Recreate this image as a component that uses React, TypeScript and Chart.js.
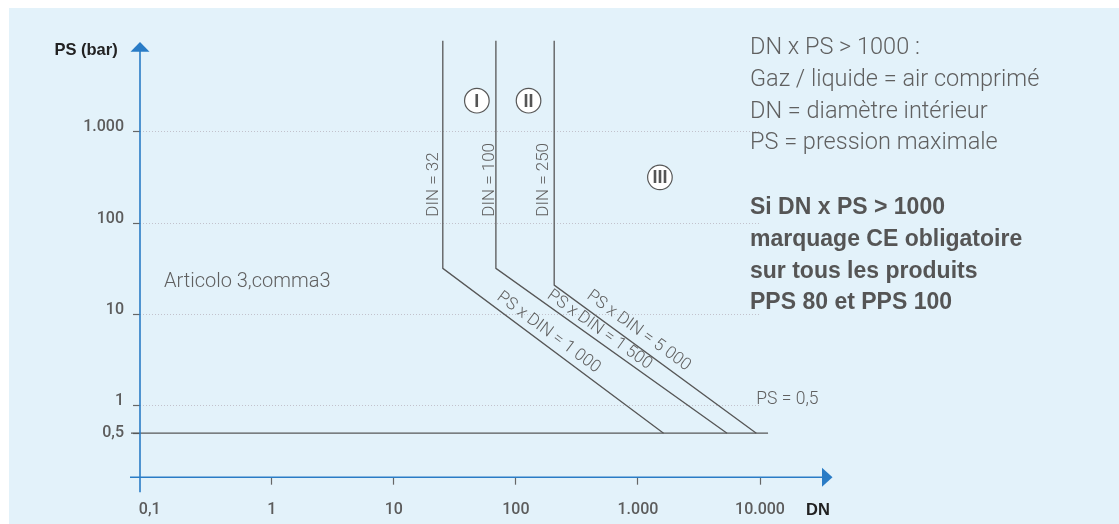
import React, { useEffect, useRef } from "react";
import { Chart, registerables } from "chart.js";

Chart.register(...registerables);

// ---------- data ----------
const xTickValues = [0.1, 1, 10, 100, 1000, 10000];
const xTickLabels = ["0,1", "1", "10", "100", "1.000", "10.000"];
const yTickValues = [0.5, 1, 10, 100, 1000];
const yTickLabels = ["0,5", "1", "10", "100", "1.000"];

const din32DN = [25.2, 25.2, 1622];
const din32PS = [10000, 32, 0.5];
const din100DN = [68.6, 68.6, 5370];
const din100PS = [10000, 32, 0.5];
const din250DN = [206, 206, 9330];
const din250PS = [10000, 21, 0.5];
const ps05DN = [0.0703, 11640];
const ps05PS = [0.5, 0.5];

const zoneNames = ["I", "II", "III"];
const zoneDN = [47.9, 127, 1514];
const zonePS = [2200, 2200, 318];

const dinLabels = ["DIN = 32", "DIN = 100", "DIN = 250"];
const dinLabelDN = [21.1, 61.5, 170.6];
const dinLabelPS = [117.8, 117.8, 117.8];

const productLabels = ["PS x DIN = 1 000", "PS x DIN = 1 500", "PS x DIN = 5 000"];
const productLabelDN = [185, 484, 1012];
const productLabelPS = [6.34, 6.76, 6.62];

const psLabel = "PS = 0,5";
const psLabelDN = 9330;
const psLabelPS = 1.175;

const articleLabel = "Articolo 3,comma3";
const articleDN = 0.131;
const articlePS = 22.9;

const noteLines = [
  "DN x PS > 1000 :",
  "Gaz / liquide = air comprimé",
  "DN = diamètre intérieur",
  "PS = pression maximale",
];
const boldLines = [
  "Si DN x PS > 1000",
  "marquage CE obligatoire",
  "sur tous les produits",
  "PPS 80 et PPS 100",
];

const yTitle = "PS (bar)";
const xTitle = "DN";

const X_MIN = 0.0833;
const X_MAX = 10000;
const Y_MIN = 0.1667;
const Y_MAX = 10000;

// ---------- styles ----------
const BG = "#e3f2fa";
const AXIS = "#2a7cc6";
const LINE = "#575757";
const TEXT = "#606060";
const TICK_TEXT = "#5c5c5c";
const LIGHT = "Roboto, 'Liberation Sans', sans-serif";
const BOLD = "'Liberation Sans', Arial, sans-serif";

const overlay = {
  id: "overlay",
  beforeDraw(chart: any) {
    const { ctx, width, height } = chart;
    ctx.save();
    ctx.fillStyle = BG;
    ctx.fillRect(0, 0, width, height);
    ctx.restore();
  },
  afterDatasetsDraw(chart: any) {
    const { ctx, chartArea: a, scales } = chart;
    const xs = scales.x;
    const ys = scales.y;
    const px = (v: number) => xs.getPixelForValue(v);
    const py = (v: number) => ys.getPixelForValue(v);
    ctx.save();

    // blue axes with arrows
    ctx.strokeStyle = AXIS;
    ctx.fillStyle = AXIS;
    ctx.lineWidth = 1.6;
    ctx.beginPath();
    ctx.moveTo(a.left, a.bottom + 15.5);
    ctx.lineTo(a.left, a.top + 10);
    ctx.moveTo(a.left - 10, a.bottom + 0.5);
    ctx.lineTo(a.right + 62, a.bottom + 0.5);
    ctx.stroke();
    ctx.beginPath();
    ctx.moveTo(a.left, a.top + 1.3);
    ctx.lineTo(a.left + 9.5, a.top + 11);
    ctx.lineTo(a.left - 9.5, a.top + 11);
    ctx.closePath();
    ctx.fill();
    ctx.beginPath();
    ctx.moveTo(a.right + 72.5, a.bottom + 0.5);
    ctx.lineTo(a.right + 62, a.bottom - 9);
    ctx.lineTo(a.right + 62, a.bottom + 10);
    ctx.closePath();
    ctx.fill();

    // axis titles
    ctx.fillStyle = "#222";
    ctx.font = `bold 16.5px ${BOLD}`;
    ctx.textBaseline = "middle";
    ctx.textAlign = "right";
    ctx.fillText(yTitle, a.left - 22.3, a.top + 9.3);
    ctx.textAlign = "left";
    ctx.fillText(xTitle, a.right + 46, a.bottom + 33.3);

    // zone numerals
    const zMeta = chart.getDatasetMeta(4);
    ctx.fillStyle = "#555";
    ctx.font = `bold 18px ${BOLD}`;
    ctx.textAlign = "center";
    ctx.textBaseline = "middle";
    zoneNames.forEach((n, i) => {
      const p = zMeta.data[i];
      ctx.fillText(n, p.x, p.y + 1);
    });

    // DIN labels (vertical)
    ctx.fillStyle = TEXT;
    ctx.font = `300 17px ${LIGHT}`;
    dinLabels.forEach((t, i) => {
      ctx.save();
      ctx.translate(px(dinLabelDN[i]), py(dinLabelPS[i]));
      ctx.rotate(-Math.PI / 2);
      ctx.textAlign = "left";
      ctx.textBaseline = "middle";
      ctx.fillText(t, 0, 0);
      ctx.restore();
    });

    // product labels along diagonals
    ctx.font = `300 17px ${LIGHT}`;
    productLabels.forEach((t, i) => {
      const m = chart.getDatasetMeta(i);
      const p1 = m.data[1];
      const p2 = m.data[2];
      const ang = Math.atan2(p2.y - p1.y, p2.x - p1.x);
      ctx.save();
      ctx.translate(px(productLabelDN[i]), py(productLabelPS[i]));
      ctx.rotate(ang);
      ctx.textAlign = "center";
      ctx.textBaseline = "middle";
      ctx.fillText(t, 0, 0);
      ctx.restore();
    });

    // PS = 0,5
    ctx.textAlign = "left";
    ctx.textBaseline = "middle";
    ctx.font = `300 17.5px ${LIGHT}`;
    ctx.fillText(psLabel, px(psLabelDN), py(psLabelPS));

    // Articolo
    ctx.font = `300 20px ${LIGHT}`;
    ctx.fillText(articleLabel, px(articleDN), py(articlePS));

    // notes block
    ctx.textBaseline = "alphabetic";
    ctx.font = `300 23.5px ${LIGHT}`;
    const x0 = a.right - 10;
    noteLines.forEach((t, i) => {
      ctx.fillText(t, x0, a.top + 13.6 + i * 31.7);
    });
    ctx.fillStyle = "#555";
    ctx.font = `bold 23px ${BOLD}`;
    boldLines.forEach((t, i) => {
      ctx.fillText(t, x0, a.top + 173.3 + i * 31.8);
    });

    ctx.restore();
  },
};

export default function App() {
  const ref = useRef<HTMLCanvasElement>(null);

  useEffect(() => {
    const canvas = ref.current;
    if (!canvas) return;
    const mk = (xs: number[], ys: number[]) => xs.map((v, i) => ({ x: v, y: ys[i] }));
    const lineDs = (label: string, xs: number[], ys: number[]) => ({
      label,
      data: mk(xs, ys),
      showLine: true,
      borderColor: LINE,
      borderWidth: 1.3,
      pointRadius: 0,
      pointHoverRadius: 0,
      fill: false,
      tension: 0,
      clip: false as any,
    });

    const chart = new Chart(canvas, {
      type: "scatter",
      data: {
        datasets: [
          lineDs("DIN = 32", din32DN, din32PS),
          lineDs("DIN = 100", din100DN, din100PS),
          lineDs("DIN = 250", din250DN, din250PS),
          lineDs("PS = 0,5", ps05DN, ps05PS),
          {
            label: "zones",
            data: mk(zoneDN, zonePS),
            showLine: false,
            pointRadius: 12.3,
            pointHoverRadius: 12.3,
            pointBackgroundColor: "#ffffff",
            pointBorderColor: LINE,
            pointBorderWidth: 1.2,
            clip: false as any,
          },
        ],
      },
      options: {
        responsive: false,
        animation: false,
        events: [],
        layout: { padding: { top: 32.7, right: 359, left: 0, bottom: 0 } },
        plugins: { legend: { display: false }, tooltip: { enabled: false } },
        scales: {
          x: {
            type: "logarithmic",
            position: "bottom",
            min: X_MIN,
            max: X_MAX,
            bounds: "data",
            afterFit: (s: any) => {
              s.height = 47.3;
            },
            afterBuildTicks: (s: any) => {
              s.ticks = xTickValues.map((v) => ({ value: v }));
            },
            grid: {
              drawOnChartArea: false,
              drawTicks: true,
              tickLength: 8,
              tickWidth: 1.2,
              tickColor: (c: any) =>
                c.tick && c.tick.value === xTickValues[0] ? "rgba(0,0,0,0)" : "#666",
            },
            border: { display: false },
            ticks: {
              autoSkip: false,
              maxRotation: 0,
              minRotation: 0,
              padding: 15.7,
              color: TICK_TEXT,
              font: { family: LIGHT, size: 16, weight: "500" },
              callback: (_v: any, i: number) => xTickLabels[i],
            },
          },
          y: {
            type: "logarithmic",
            position: "left",
            min: Y_MIN,
            max: Y_MAX,
            bounds: "data",
            afterFit: (s: any) => {
              s.width = 131;
            },
            afterBuildTicks: (s: any) => {
              s.ticks = yTickValues.map((v) => ({ value: v }));
            },
            grid: {
              drawOnChartArea: true,
              drawTicks: true,
              tickLength: 7,
              tickWidth: 1.2,
              lineWidth: 1,
              color: (c: any) =>
                c.tick && c.tick.value === yTickValues[0] ? "rgba(0,0,0,0)" : "#c2c2cc",
              tickColor: (c: any) =>
                c.tick && c.tick.value === yTickValues[0] ? LINE : "#666",
            },
            border: { display: false, dash: [1, 2] },
            ticks: {
              autoSkip: false,
              padding: 9,
              labelOffset: -4.5,
              color: TICK_TEXT,
              font: (c: any) => ({
                family: LIGHT,
                size: 16,
                weight: "500",
                lineHeight: c.tick && c.tick.value === yTickValues[0] ? 0.5625 : 1.2,
              }),
              callback: (_v: any, i: number) => (i === 0 ? ["", yTickLabels[i]] : yTickLabels[i]),
            },
          },
        },
      } as any,
      plugins: [overlay],
    });
    return () => chart.destroy();
  }, []);

  return (
    <canvas
      ref={ref}
      width={1110}
      height={516}
      style={{ position: "fixed", left: 9, top: 8, display: "block" }}
    />
  );
}
